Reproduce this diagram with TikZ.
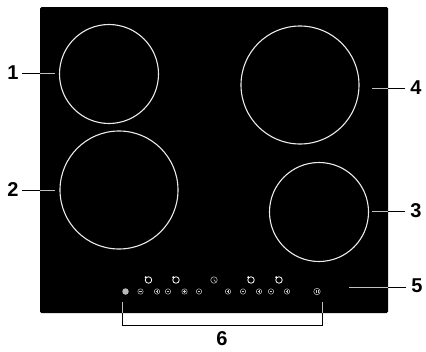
\documentclass[tikz,border=0pt]{standalone}
\usepackage{fontspec}
\setmainfont{Liberation Sans}
\begin{document}
\begin{tikzpicture}[x=1pt,y=-1pt,
  zone/.style={draw=white!92!black,line width=1.1pt,fill=none},
  lab/.style={font=\fontsize{20}{20}\selectfont\bfseries,text=black,inner sep=0pt},
  outer/.style={draw=black,line width=1pt},
  inner/.style={draw=white!75!black,line width=1pt},
  key/.style={circle,draw=white!80!black,line width=.5pt,minimum size=5.4pt,inner sep=0pt},
  sym/.style={draw=white!80!black,line width=.45pt}]
\useasboundingbox (0,0) rectangle (426,351);
\fill[white] (0,0) rectangle (426,351);
\fill[black,rounded corners=1.5pt] (40,7) rectangle (388,313);
% zones
\node[zone,circle,minimum size=99pt,inner sep=0pt] (z1) at (109,74) {};
\node[zone,circle,minimum size=118pt,inner sep=0pt] (z2) at (119,190) {};
\node[zone,circle,minimum size=118pt,inner sep=0pt] (z4) at (300,85) {};
\node[zone,circle,minimum size=99pt,inner sep=0pt] (z3) at (319,212) {};
% labels
\node[lab] (l1) at (13,73) {1};
\node[lab] (l2) at (13,190) {2};
\node[lab] (l4) at (416,88) {4};
\node[lab] (l3) at (416,211) {3};
\node[lab] (l5) at (417,286) {5};
\node[lab] (l6) at (222,339) {6};
% leaders
\coordinate (e1) at (40,73); \coordinate (t1) at (55,73);
\coordinate (e2) at (40,190); \coordinate (t2) at (55,190);
\coordinate (e4) at (388,88); \coordinate (t4) at (372,88);
\coordinate (e3) at (388,211); \coordinate (t3) at (372,211);
\coordinate (e5) at (388,287); \coordinate (t5) at (349,287);
\draw[outer] (22,73) -- (e1); \draw[inner] (e1) -- (t1);
\draw[outer] (22,190) -- (e2); \draw[inner] (e2) -- (t2);
\draw[outer] (405,88) -- (e4); \draw[inner] (e4) -- (t4);
\draw[outer] (405,211) -- (e3); \draw[inner] (e3) -- (t3);
\draw[outer] (406,287) -- (e5); \draw[inner] (e5) -- (t5);
% bracket
\coordinate (bl) at (122,313); \coordinate (br) at (322,313);
\draw[inner] (122,302) -- (bl);
\draw[inner] (322,302) -- (br);
\draw[outer] (bl) -- (122,325) -- (322,325) -- (br);
% timer / top-row keys
\foreach \n/\x in {a/148.5,b/176,d/251,e/279}{
  \node[key,line width=.8pt,draw=white,minimum size=6.5pt] (k\n) at (\x,280) {};
  \fill[white] (\x-2.8,277.2) circle (1.1pt);
}
\node[key,minimum size=6.5pt] (kc) at (214,280) {};
\draw[sym] (214,277.5) -- (214,280) -- (215.6,281.6);
% bottom row
\node[circle,fill=white!72!black,minimum size=6.5pt,inner sep=0pt] (kon) at (125.5,291.5) {};
\foreach \n/\x in {m1/140.5,m2/168,m3/199,m4/243,m5/271}{
  \node[key] (\n) at (\x,291.5) {};
  \draw[sym] (\x-1.4,291.5) -- (\x+1.4,291.5);
}
\foreach \n/\x in {p1/157,p2/184.5,p3/228,p4/259,p5/287}{
  \node[key] (\n) at (\x,291.5) {};
  \draw[sym] (\x-1.4,291.5) -- (\x+1.4,291.5) (\x,290.1) -- (\x,292.9);
}
\node[key,minimum size=6.5pt] (kp) at (317,291.5) {};
\draw[sym] (316.2,289.8) -- (316.2,293.2) (317.8,289.8) -- (317.8,293.2);
\end{tikzpicture}
\end{document}
